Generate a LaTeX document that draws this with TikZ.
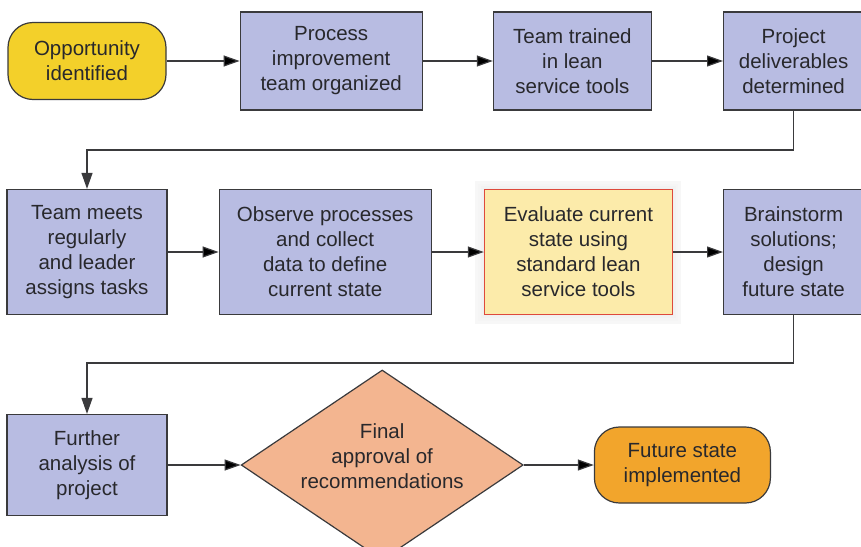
\documentclass[tikz,border=0pt]{standalone}
\usepackage[usenames,dvipsnames,svgnames,table]{xcolor}
\usepackage{fontspec}
\setmainfont{Liberation Sans}
\usepackage{tikz}
\usetikzlibrary{arrows,arrows.meta,positioning,shapes.geometric}

\definecolor{boxblue}{RGB}{184,188,226}
\definecolor{edgegray}{RGB}{58,58,60}
\definecolor{inktext}{RGB}{40,40,44}
\definecolor{oppyellow}{RGB}{243,208,42}
\definecolor{evalfill}{RGB}{252,235,170}
\definecolor{evalred}{RGB}{222,74,60}
\definecolor{approvefill}{RGB}{243,181,144}
\definecolor{futorange}{RGB}{242,165,44}

\begin{document}
\begin{tikzpicture}[x=1pt,y=-1pt,node distance=73pt,auto,line width=1.2pt,
  >={Triangle[length=16pt,width=11pt]}]
  \tikzstyle{every node}=[font=\fontsize{20.5}{25}\selectfont,text=inktext,align=center,inner sep=0pt]
  \tikzstyle{task}=[rectangle,draw=edgegray,fill=boxblue,minimum height=98pt]
  \tikzstyle{terminal}=[rectangle,rounded corners=25pt,draw=edgegray,minimum height=77pt]
  \tikzstyle{decision}=[diamond,aspect=1.5,inner xsep=-5pt,text depth=18pt,draw=edgegray,fill=approvefill,
    minimum width=282pt,minimum height=190pt]
  \tikzstyle{focus}=[task,fill=evalfill,draw=evalred,
    preaction={draw=black!3,line width=18pt},preaction={draw=black!4,line width=12pt},
    preaction={draw=black!5,line width=7pt},preaction={draw=black!6,line width=3.5pt}]
  \tikzstyle{flow}=[->,draw=edgegray]

  \useasboundingbox (0,0) rectangle (861,546);

  % top row
  \node[terminal,fill=oppyellow,minimum width=158pt] (opp) at (87,61) {Opportunity\\identified};
  \node[task,minimum width=182pt] (team) [right=73pt of opp] {Process\\improvement\\team organized};
  \node[task,minimum width=158pt] (train) [right=70pt of team] {Team trained\\in lean\\service tools};
  \node[task,minimum width=140pt] (deliver) [right=71pt of train] {Project\\deliverables\\determined};

  % middle row
  \node[task,minimum width=160pt,minimum height=125pt] (meet) at (87,252) {Team meets\\regularly\\and leader\\assigns tasks};
  \node[task,minimum width=212pt,minimum height=125pt] (observe) [right=51pt of meet] {Observe processes\\and collect\\data to define\\current state};
  \node[focus,minimum width=188pt,minimum height=125pt] (evaluate) [right=52pt of observe] {Evaluate current\\state using\\standard lean\\service tools};
  \node[task,minimum width=140pt,minimum height=125pt] (brain) [right=50pt of evaluate] {Brainstorm\\solutions;\\design\\future state};

  % bottom row
  \node[task,minimum width=160pt,minimum height=101pt] (further) at (87,465) {Further\\analysis of\\project};
  \node[decision] (approve) [right=73pt of further] {Final\\approval of\\recommendations};
  \node[terminal,fill=futorange,minimum width=176pt,minimum height=76pt] (future) [right=70pt of approve] {Future state\\implemented};

  \path[flow]
  (opp) edge (team)
  (team) edge (train)
  (train) edge (deliver)
  (meet) edge (observe)
  (observe) edge (evaluate)
  (evaluate) edge (brain)
  (further) edge (approve)
  (approve) edge (future);

  % wrap to the next row
  \draw[flow] (deliver) -- ++(0,89) -| (meet);
  \draw[flow] (brain) -- ++(0,111) -| (further);
\end{tikzpicture}
\end{document}
